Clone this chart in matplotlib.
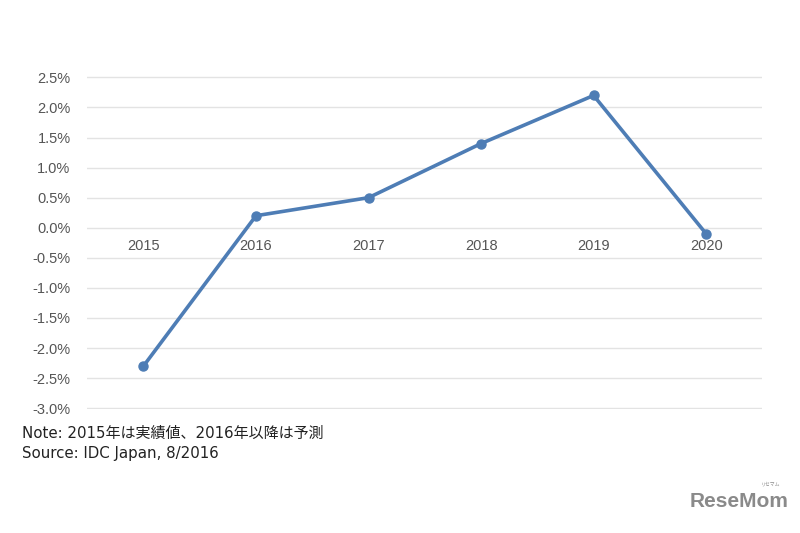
import matplotlib.pyplot as plt
from matplotlib.ticker import FuncFormatter

plt.rcParams['font.family'] = ['Liberation Sans', 'DejaVu Sans']

years = ["2015", "2016", "2017", "2018", "2019", "2020"]
growth = [-2.3, 0.2, 0.5, 1.4, 2.2, -0.1]
yticks = [-3.0, -2.5, -2.0, -1.5, -1.0, -0.5, 0.0, 0.5, 1.0, 1.5, 2.0, 2.5]

LINE = "#4e7db5"

fig = plt.figure(figsize=(8, 5.33), dpi=100)
ax = fig.add_axes([0.109, 0.232, 0.844, 0.625])

x = list(range(len(years)))
ax.plot(x, growth, color=LINE, linewidth=2.6, marker="o", markersize=6.5, zorder=3)

ax.set_xlim(-0.5, len(years) - 0.5)
ax.set_ylim(-3.02, 2.52)
ax.set_yticks(yticks)
ax.yaxis.set_major_formatter(FuncFormatter(lambda v, p: f"{v:.1f}%"))
ax.grid(axis="y", color="#e3e3e3", linewidth=1.0)
ax.set_axisbelow(True)

# category labels sit just under the zero line
ax.set_xticks(x)
ax.set_xticklabels(years)
ax.spines["bottom"].set_position(("data", 0))
for s in ax.spines.values():
    s.set_visible(False)
ax.tick_params(axis="x", length=0, pad=8, labelsize=10.5, labelcolor="#555555")
ax.tick_params(axis="y", length=0, pad=12, labelsize=10.5, labelcolor="#555555")

note_font = ["DejaVu Sans", "Noto Sans CJK JP"]
fig.text(0.027, 0.187, "Note: 2015年は実績値、2016年以降は予測", fontsize=10.8,
         color="#222222", family=note_font, va="center")
fig.text(0.027, 0.150, "Source: IDC Japan, 8/2016", fontsize=10.8,
         color="#222222", family=note_font, va="center")

# logo
fig.text(0.862, 0.042, "ReseMom", fontsize=15, fontweight="bold", color="#8a8a8a",
         family=["Liberation Sans"], va="bottom")
fig.text(0.975, 0.088, "リセマム", fontsize=3.5, color="#8a8a8a",
         family=["Noto Sans CJK JP"], ha="right", va="bottom")

fig.savefig("out.png", dpi=100, facecolor="white")
